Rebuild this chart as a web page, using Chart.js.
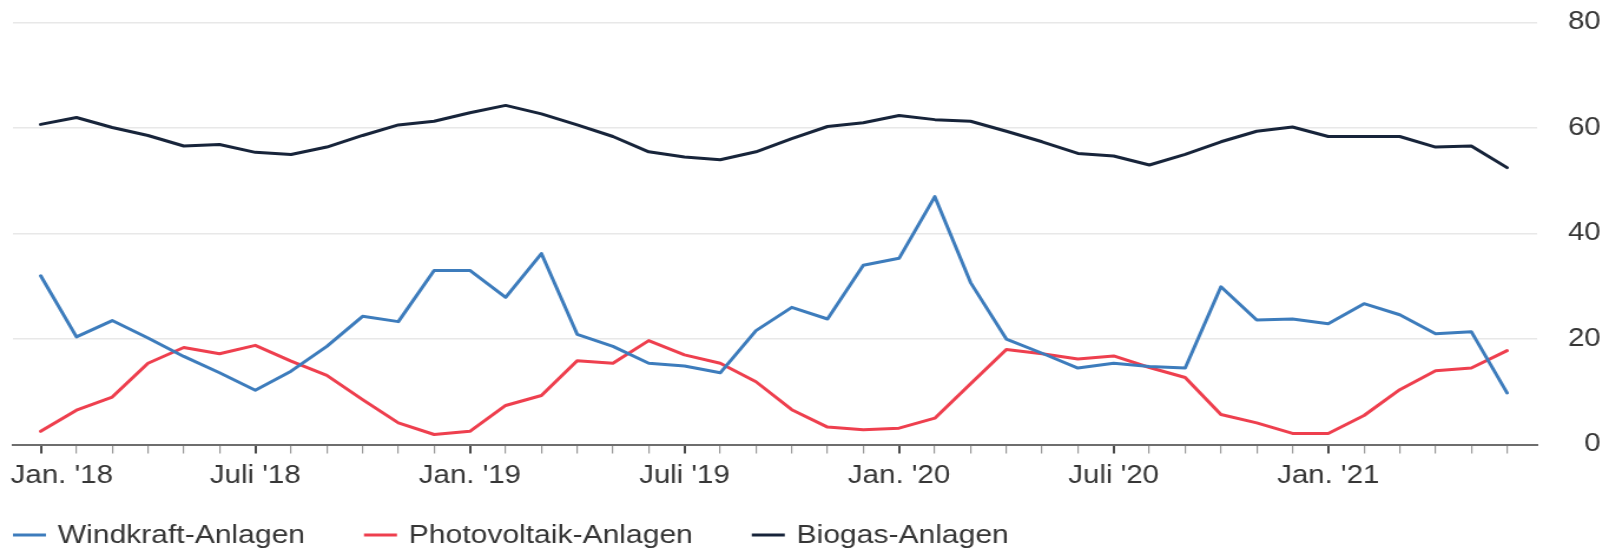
<!DOCTYPE html>
<html lang="de">
<head>
<meta charset="utf-8">
<title>Windkraft-, Photovoltaik- und Biogas-Anlagen</title>
<script src="https://cdn.jsdelivr.net/npm/chart.js@4.4.1/dist/chart.umd.min.js"></script>
<style>
  html, body { margin: 0; padding: 0; background: #ffffff; overflow: hidden; }
  #chart { display: block; }
</style>
</head>
<body>
<!-- the chart is laid out on a narrower canvas and widened to the page -->
<canvas id="chart" width="1365" height="549" style="width:1609px;height:549px"></canvas>
<script>
// Monthly values, Jan. 2018 – Juni 2021
const months = [
  "Jan. '18","Feb. '18","März '18","Apr. '18","Mai '18","Juni '18","Juli '18","Aug. '18","Sep. '18","Okt. '18","Nov. '18","Dez. '18",
  "Jan. '19","Feb. '19","März '19","Apr. '19","Mai '19","Juni '19","Juli '19","Aug. '19","Sep. '19","Okt. '19","Nov. '19","Dez. '19",
  "Jan. '20","Feb. '20","März '20","Apr. '20","Mai '20","Juni '20","Juli '20","Aug. '20","Sep. '20","Okt. '20","Nov. '20","Dez. '20",
  "Jan. '21","Feb. '21","März '21","Apr. '21","Mai '21","Juni '21"
];

const windkraft = [
  32.0, 20.4, 23.5, 20.2, 16.7, 13.6, 10.3, 13.9, 18.6, 24.3, 23.3, 33.0,
  33.0, 27.9, 36.2, 20.9, 18.6, 15.4, 14.9, 13.6, 21.6, 26.0, 23.8, 34.0,
  35.3, 47.0, 30.7, 20.0, 17.3, 14.5, 15.4, 14.8, 14.5, 29.9, 23.6, 23.8,
  22.9, 26.7, 24.6, 21.0, 21.4, 9.8
];

const photovoltaik = [
  2.5, 6.5, 9.0, 15.4, 18.4, 17.2, 18.8, 15.8, 13.1, 8.5, 4.1, 1.9,
  2.5, 7.4, 9.3, 15.9, 15.4, 19.7, 17.0, 15.4, 11.9, 6.6, 3.3, 2.8,
  3.1, 5.0, 11.5, 18.0, 17.2, 16.2, 16.8, 14.6, 12.7, 5.7, 4.1, 2.1,
  2.1, 5.5, 10.4, 14.0, 14.5, 17.8
];

const biogas = [
  60.7, 62.0, 60.1, 58.6, 56.6, 56.9, 55.4, 55.0, 56.4, 58.6, 60.6, 61.3,
  62.9, 64.3, 62.7, 60.6, 58.4, 55.5, 54.5, 54.0, 55.5, 58.0, 60.3, 61.0,
  62.4, 61.6, 61.3, 59.4, 57.4, 55.2, 54.7, 53.0, 55.0, 57.4, 59.4, 60.2,
  58.4, 58.4, 58.4, 56.4, 56.6, 52.5
];

// labelled months on the time axis (index into months)
const tickMonths = [0, 6, 12, 18, 24, 30, 36];
const tickLabels = ["Jan. '18", "Juli '18", "Jan. '19", "Juli '19", "Jan. '20", "Juli '20", "Jan. '21"];

// value axis
const yTicks = [0, 20, 40, 60, 80];

const seriesNames = ["Windkraft-Anlagen", "Photovoltaik-Anlagen", "Biogas-Anlagen"];
const seriesColors = ["#3d7cbc", "#ee3f4e", "#17243a"];

const FONT = "'Liberation Sans', Arial, Helvetica, sans-serif";
Chart.defaults.font.family = FONT;
Chart.defaults.color = "#363636";

const toPoints = arr => arr.map((v, i) => ({ x: i, y: v }));

// month labels under the axis; the first one is kept inside the plot's left edge
const monthLabelPlugin = {
  id: 'monthLabels',
  afterDraw(chart) {
    const { ctx, chartArea, scales: { x } } = chart;
    ctx.save();
    ctx.font = '25px ' + FONT;
    ctx.fillStyle = '#363636';
    ctx.textAlign = 'left';
    ctx.textBaseline = 'alphabetic';
    tickMonths.forEach((m, k) => {
      const text = tickLabels[k];
      const w = ctx.measureText(text).width;
      const left = Math.max(x.getPixelForValue(m) - w / 2, chartArea.left - 2);
      ctx.fillText(text, left, 483);
    });
    ctx.restore();
  }
};

// series key along the bottom edge
const seriesKeyPlugin = {
  id: 'seriesKey',
  afterDraw(chart) {
    const { ctx } = chart;
    ctx.save();
    ctx.font = '25.5px ' + FONT;
    ctx.textAlign = 'left';
    ctx.textBaseline = 'alphabetic';
    let xPos = 11;
    chart.data.datasets.forEach(ds => {
      ctx.strokeStyle = ds.borderColor;
      ctx.lineWidth = 3;
      ctx.beginPath();
      ctx.moveTo(xPos, 535);
      ctx.lineTo(xPos + 28, 535);
      ctx.stroke();
      ctx.fillStyle = '#363636';
      ctx.fillText(ds.label, xPos + 38, 542.5);
      xPos += 38 + ctx.measureText(ds.label).width + 50;
    });
    ctx.restore();
  }
};

const seriesData = [windkraft, photovoltaik, biogas];

new Chart(document.getElementById('chart'), {
  type: 'line',
  data: {
    datasets: seriesData.map((arr, i) => ({
      label: seriesNames[i],
      data: toPoints(arr),
      borderColor: seriesColors[i],
      backgroundColor: seriesColors[i],
      borderWidth: 3,
      borderJoinStyle: 'round',
      borderCapStyle: 'round',
      pointRadius: 0,
      tension: 0,
      fill: false
    }))
  },
  options: {
    responsive: false,
    animation: false,
    devicePixelRatio: 1,
    layout: { padding: { left: 11, right: 7, top: 22.6, bottom: 95.5 } },
    plugins: {
      legend: { display: false },
      tooltip: { enabled: false }
    },
    scales: {
      x: {
        type: 'linear',
        min: -0.775,
        max: 41.84,
        afterBuildTicks(scale) {
          scale.ticks = months.map((_, i) => ({ value: i }));
        },
        afterFit(scale) {
          scale.paddingLeft = 0;
          scale.paddingRight = 0;
          scale.height = 9;
        },
        ticks: { display: false },
        grid: {
          drawOnChartArea: false,
          drawTicks: true,
          tickLength: 9,
          color: c => (c.tick && c.tick.value % 6 === 0) ? '#4a4a4a' : '#9a9a9a',
          lineWidth: c => (c.tick && c.tick.value % 6 === 0) ? 2 : 1.2
        },
        border: { display: true, color: '#6e6e6e', width: 2 }
      },
      y: {
        position: 'right',
        min: 0,
        max: 80,
        afterBuildTicks(scale) {
          scale.ticks = yTicks.map(v => ({ value: v }));
        },
        afterFit(scale) {
          scale.width = 54;
          scale.paddingTop = 0;
          scale.paddingBottom = 0;
        },
        ticks: {
          crossAlign: 'far',
          padding: 26,
          color: '#363636',
          font: { size: 25, family: FONT }
        },
        grid: {
          drawTicks: false,
          color: c => (c.tick && c.tick.value === 0) ? 'rgba(0,0,0,0)' : '#e8e8e8',
          lineWidth: 1.6
        },
        border: { display: false }
      }
    }
  },
  plugins: [monthLabelPlugin, seriesKeyPlugin]
});
</script>
</body>
</html>
